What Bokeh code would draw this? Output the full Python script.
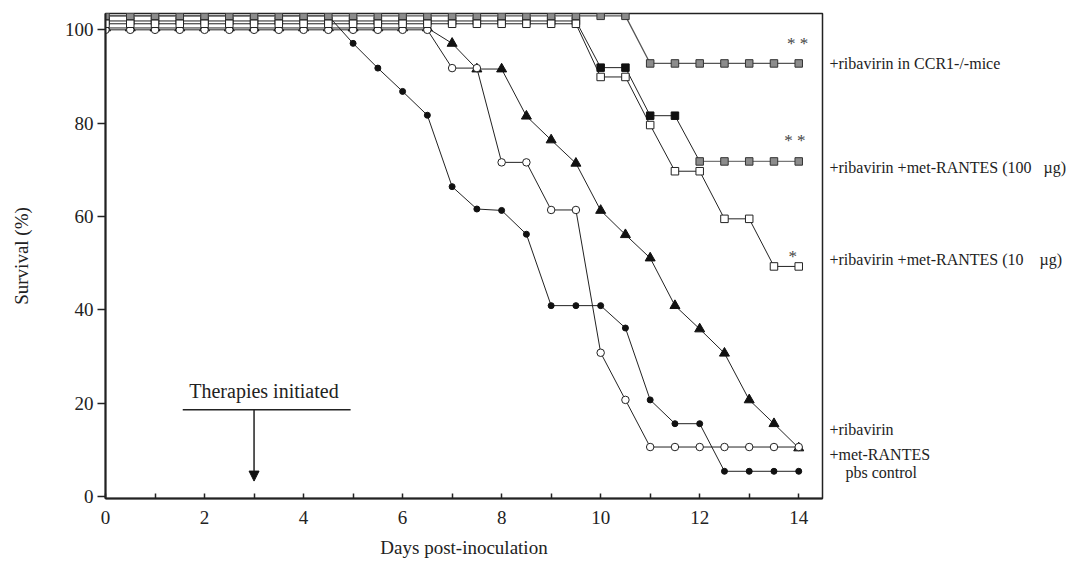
from bokeh.plotting import figure
from bokeh.layouts import row
from bokeh.models import Range1d, FixedTicker, Label, Arrow, NormalHead
from bokeh.embed import file_html
from bokeh.resources import INLINE

FONT = "Liberation Serif"
NB = "\u00a0"

# ---- data (survival %, as plotted) ----
days = [0, 0.5, 1, 1.5, 2, 2.5, 3, 3.5, 4, 4.5, 5, 5.5, 6, 6.5, 7,
        7.5, 8, 8.5, 9, 9.5, 10, 10.5, 11, 11.5, 12, 12.5, 13, 13.5, 14]

ccr1_ribavirin = [103.0, 103.0, 103.0, 103.0, 103.0, 103.0, 103.0, 103.0, 103.0, 103.0,
                  103.0, 103.0, 103.0, 103.0, 103.0, 103.0, 103.0, 103.0, 103.0, 103.0,
                  103.0, 103.0, 92.8, 92.8, 92.8, 92.8, 92.8, 92.8, 92.8]
rib_metrantes_100 = [101.9, 101.9, 101.9, 101.9, 101.9, 101.9, 101.9, 101.9, 101.9, 101.9,
                     101.9, 101.9, 101.9, 101.9, 101.9, 101.9, 101.9, 101.9, 101.9, 101.9,
                     91.9, 91.9, 81.6, 81.6, 71.8, 71.8, 71.8, 71.8, 71.8]
rib_metrantes_10 = [101.3, 101.3, 101.3, 101.3, 101.3, 101.3, 101.3, 101.3, 101.3, 101.3,
                    101.3, 101.3, 101.3, 101.3, 101.3, 101.3, 101.3, 101.3, 101.3, 101.3,
                    89.9, 89.9, 79.6, 69.7, 69.7, 59.5, 59.5, 49.3, 49.3]
ribavirin = [100.4, 100.4, 100.4, 100.4, 100.4, 100.4, 100.4, 100.4, 100.4, 100.4,
             100.4, 100.4, 100.4, 100.4, 97.1, 91.6, 91.6, 81.5, 76.4, 71.4,
             61.3, 56.1, 51.1, 40.9, 35.9, 30.7, 20.7, 15.6, 10.4]
met_rantes = [100.0, 100.0, 100.0, 100.0, 100.0, 100.0, 100.0, 100.0, 100.0, 100.0,
              100.0, 100.0, 100.0, 100.0, 91.8, 91.8, 71.6, 71.6, 61.4, 61.4,
              30.8, 20.7, 10.6, 10.6, 10.6, 10.6, 10.6, 10.6, 10.6]
pbs_control = [103.0, 103.0, 103.0, 103.0, 103.0, 103.0, 103.0, 103.0, 103.0, 103.0,
               97.1, 91.8, 86.8, 81.7, 66.4, 61.6, 61.3, 56.2, 40.9, 40.9,
               40.9, 36.1, 20.7, 15.6, 15.6, 5.4, 5.4, 5.4, 5.4]

series_labels = ["+ribavirin in CCR1-/-mice",
                 "+ribavirin +met-RANTES (100" + NB * 3 + "µg)",
                 "+ribavirin +met-RANTES (10" + NB * 4 + "µg)",
                 "+ribavirin", "+met-RANTES", "pbs control"]
series_label_y = [92.8, 70.6, 50.8, 14.3, 8.9, 5.2]

signif_marks = ["* *", "* *", "*"]
signif_x = [13.98, 13.92, 13.88]
signif_y = [97.0, 76.2, 51.5]

x_major = [0, 2, 4, 6, 8, 10, 12, 14]
x_minor = [1, 3, 5, 7, 9, 11, 13]
y_major = [0, 20, 40, 60, 80, 100]

therapy_day = 3
therapy_text = "Therapies initiated"

H = 568
TOP = 13
BOTTOM = 70
y_range = Range1d(-0.43, 103.5)

# ---- main figure ----
p = figure(width=825, height=H, output_backend="svg", toolbar_location=None,
           x_range=Range1d(0, 14.48), y_range=y_range,
           min_border_left=105, min_border_right=3, min_border_top=TOP, min_border_bottom=BOTTOM)
p.grid.visible = False
p.outline_line_color = "#222222"
p.outline_line_width = 1.5
p.background_fill_color = "white"
p.border_fill_color = "white"

LC = "#222222"

# pbs control
p.line(days, pbs_control, line_color=LC, line_width=1)
p.scatter(days, pbs_control, marker="circle", size=6, fill_color="#111111", line_color="#111111")
# ribavirin
p.line(days, ribavirin, line_color=LC, line_width=1)
p.scatter(days, ribavirin, marker="triangle", size=10, fill_color="#111111", line_color="#111111")
# met-RANTES
p.line(days, met_rantes, line_color=LC, line_width=1)
p.scatter(days, met_rantes, marker="circle", size=7.5, fill_color="white", line_color=LC, line_width=1)
# ribavirin + met-RANTES 10 ug
p.line(days, rib_metrantes_10, line_color=LC, line_width=1)
# ribavirin + met-RANTES 100 ug
p.line(days[:25], rib_metrantes_100[:25], line_color=LC, line_width=1)
p.line(days[24:], rib_metrantes_100[24:], line_color="#777777", line_width=1.3)
p.scatter(days[:24], rib_metrantes_100[:24], marker="square", size=7.5, fill_color="#111111", line_color="#111111")
p.scatter(days[24:], rib_metrantes_100[24:], marker="square", size=7.5, fill_color="#8c8c8c", line_color="#333333")
p.scatter(days, rib_metrantes_10, marker="square", size=7.5, fill_color="white", line_color=LC, line_width=1)
# CCR1-/- + ribavirin
p.line(days, ccr1_ribavirin, line_color="#555555", line_width=1.3)
p.scatter(days, ccr1_ribavirin, marker="square", size=7.5, fill_color="#8c8c8c", line_color="#333333")

# ---- axes ----
for ax in (p.xaxis[0], p.yaxis[0]):
    ax.axis_line_color = LC
    ax.axis_line_width = 2
    ax.major_tick_line_color = LC
    ax.minor_tick_line_color = LC
    ax.major_tick_line_width = 1.5
    ax.minor_tick_line_width = 1.5
    ax.major_label_text_font = FONT
    ax.major_label_text_font_size = "19px"
    ax.major_label_text_color = "#222222"
    ax.axis_label_text_font = FONT
    ax.axis_label_text_font_size = "19px"
    ax.axis_label_text_font_style = "normal"
    ax.axis_label_text_color = "#222222"

p.xaxis.ticker = FixedTicker(ticks=x_major, minor_ticks=x_minor)
p.xaxis.major_tick_in = 5
p.xaxis.major_tick_out = 0
p.xaxis.minor_tick_in = 5
p.xaxis.minor_tick_out = 0
p.xaxis.major_label_standoff = 12
p.xaxis.axis_label = "Days post-inoculation"
p.xaxis.axis_label_standoff = 10

p.yaxis.ticker = FixedTicker(ticks=y_major, minor_ticks=[])
p.yaxis.major_tick_in = 0
p.yaxis.major_tick_out = 8
p.yaxis.minor_tick_in = 0
p.yaxis.minor_tick_out = 0
p.yaxis.major_label_standoff = 4
p.yaxis.axis_label = "Survival (%)"
p.yaxis.axis_label_standoff = 30

# ---- annotations in the plot ----
for t, sx, sy in zip(signif_marks, signif_x, signif_y):
    p.add_layout(Label(x=sx, y=sy, text=t, text_font=FONT, text_font_size="17px",
                       text_color="#444444", text_baseline="middle", text_align="center"))

p.segment(x0=[therapy_day - 1.44], y0=[18.6], x1=[therapy_day + 1.95], y1=[18.6],
          line_color=LC, line_width=1.5)
p.add_layout(Arrow(end=NormalHead(size=10, fill_color="#111111", line_color="#111111"),
                   x_start=therapy_day, y_start=18.6, x_end=therapy_day, y_end=3.3,
                   line_color=LC, line_width=1.5))
p.add_layout(Label(x=therapy_day + 0.2, y=22.7, text=therapy_text, text_font=FONT,
                   text_font_size="20px", text_color="#222222",
                   text_baseline="middle", text_align="center"))

# ---- right-hand series labels (separate panel sharing the y scale) ----
r = figure(width=245, height=H, output_backend="svg", toolbar_location=None,
           x_range=Range1d(0, 245), y_range=y_range,
           min_border_left=0, min_border_right=0, min_border_top=TOP, min_border_bottom=BOTTOM)
r.axis.visible = False
r.grid.visible = False
r.outline_line_color = None
r.background_fill_color = "white"
r.border_fill_color = "white"
label_x = [4, 4, 4, 4, 4, 20]
for t, lx, ly in zip(series_labels, label_x, series_label_y):
    r.add_layout(Label(x=lx, y=ly, text=t, text_font=FONT, text_font_size="16px",
                       text_color="#222222", text_baseline="middle", text_align="left"))

layout = row(p, r)
open("out.html", "w").write(file_html(layout, INLINE))
